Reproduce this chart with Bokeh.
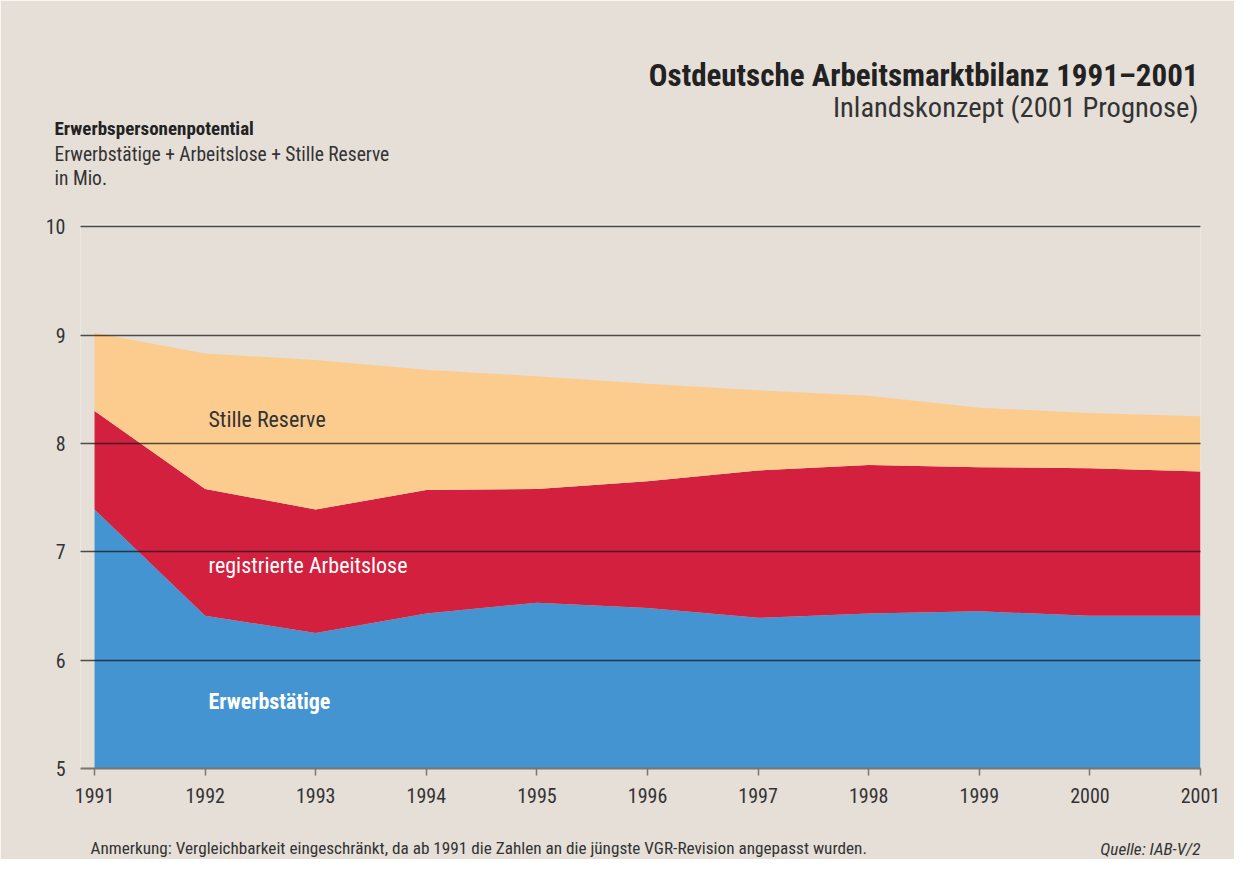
from bokeh.plotting import figure
from bokeh.models import ColumnDataSource, FixedTicker, Label, Range1d, Title
from bokeh.embed import file_html
from bokeh.resources import INLINE

years = [1991, 1992, 1993, 1994, 1995, 1996, 1997, 1998, 1999, 2000, 2001]
erwerbstaetige = [7.39, 6.41, 6.25, 6.43, 6.53, 6.48, 6.39, 6.43, 6.45, 6.41, 6.41]
arbeitslose = [0.91, 1.17, 1.14, 1.14, 1.05, 1.17, 1.36, 1.37, 1.33, 1.36, 1.33]
stille_reserve = [0.72, 1.25, 1.38, 1.11, 1.04, 0.90, 0.74, 0.64, 0.55, 0.51, 0.51]
y_ticks = [5, 6, 7, 8, 9, 10]

FONT = "Roboto Condensed"
BG = "#e5dfd8"
W, H = 1234, 859
FL, FR, FT, FB = 80, 1200, 224, 768     # frame edges in canvas pixels

src = ColumnDataSource(dict(year=years, erw=erwerbstaetige, alo=arbeitslose, sr=stille_reserve))

p = figure(width=W, height=H, output_backend="svg", toolbar_location=None,
           x_range=Range1d(1990.873, 2001), y_range=Range1d(5, 10.02),
           min_border_left=FL, min_border_right=W - FR, min_border_top=FT, min_border_bottom=H - FB)
p.background_fill_color = BG
p.border_fill_color = BG
p.outline_line_color = None

p.varea_stack(stackers=["erw", "alo", "sr"], x="year", source=src,
              color=["#4394d0", "#d2203e", "#fccc8e"])

# axes
p.xaxis.ticker = FixedTicker(ticks=years)
p.xaxis.axis_line_color = "#7a7570"
p.xaxis.axis_line_width = 2
p.xaxis.major_tick_line_color = "#7a7570"
p.xaxis.major_tick_line_width = 1.5
p.xaxis.major_tick_out = 7
p.xaxis.major_tick_in = 0
p.xaxis.minor_tick_line_color = None
p.xaxis.major_label_standoff = 12
p.xaxis.major_label_text_font = FONT
p.xaxis.major_label_text_font_size = "20px"
p.xaxis.major_label_text_color = "#333333"

p.yaxis.ticker = FixedTicker(ticks=y_ticks)
p.yaxis.axis_line_color = None
p.yaxis.major_tick_line_color = None
p.yaxis.minor_tick_line_color = None
p.yaxis.major_label_standoff = 9
p.yaxis.major_label_text_font = FONT
p.yaxis.major_label_text_font_size = "20px"
p.yaxis.major_label_text_color = "#333333"

p.xgrid.grid_line_color = None
p.ygrid.ticker = FixedTicker(ticks=[6, 7, 8, 9, 10])
p.ygrid.grid_line_color = "#1a1a1a"
p.ygrid.grid_line_alpha = 0.75
p.ygrid.grid_line_width = 1.3
p.ygrid.level = "annotation"

# ---- text stacks (Titles, since annotations are clipped to the frame) ----
HK, DK = 1.10, 0.21   # assumed text-box height and descent factors

def th(size):
    return HK * size

def title(text, size, side, standoff, align="left", offset=0, style="normal", color="#222222"):
    p.add_layout(Title(text=text, text_font=FONT, text_font_size=f"{size}px",
                       text_font_style=style, text_color=color, align=align,
                       offset=offset, standoff=standoff), side)

# above: (text, size, target baseline y, align, offset, style, color), nearest the frame first
above = [
    ("in Mio.", 19.5, 185, "left", -26, "normal", "#333333"),
    ("Erwerbstätige + Arbeitslose + Stille Reserve", 19.5, 163.2, "left", -26, "normal", "#333333"),
    ("Erwerbspersonenpotential", 19, 139.3, "left", -26, "bold", "#222222"),
    ("Inlandskonzept (2001 Prognose)", 28.5, 123, "right", 2, "normal", "#333333"),
    ("Ostdeutsche Arbeitsmarktbilanz 1991–2001", 31, 93.7, "right", 2, "bold", "#222222"),
]
# spacer so that the first line sits with zero standoff
first = above[0]
sy1 = first[2] + DK * first[1]
sp_size = 10
sp_h = FT - sy1
title(" ", sp_size, "above", sp_h - 2 - th(sp_size))
bottom = sy1
for text, size, base, align, off, style, color in above:
    sy = base + DK * size
    s = 2 * (bottom - sy)
    title(text, size, "above", s, align=align, offset=off, style=style, color=color)
    bottom = bottom - (2 + th(size) + s)

# below: spacer then two zero-height lines on the same baseline
AXIS_H = 7 + 12 + 1.2 * 20
foot_size = 17.2
foot_base = 859
zero_s = -(2 + th(foot_size))
panel_y = foot_base + DK * foot_size - (2 + th(foot_size)) / 2
title(" ", sp_size, "below", (panel_y - (FB + AXIS_H)) - 2 - th(sp_size))
title("Anmerkung: Vergleichbarkeit eingeschränkt, da ab 1991 die Zahlen an die jüngste VGR-Revision angepasst wurden.",
      foot_size, "below", zero_s, align="left", offset=10, color="#333333")
title("Quelle: IAB-V/2", foot_size, "below", zero_s, align="right", offset=0, style="italic", color="#333333")

# ---- in-chart labels ----
def lab(x, y, text, size, color, style="normal"):
    p.add_layout(Label(x=x, y=y, text=text, text_font=FONT, text_font_size=size,
                       text_color=color, text_font_style=style, text_baseline="alphabetic"))

lab(1992.03, 8.22, "Stille Reserve", "22px", "#333333")
lab(1992.03, 6.873, "registrierte Arbeitslose", "22px", "#ffffff")
lab(1992.03, 5.618, "Erwerbstätige", "22px", "#ffffff", "bold")

open("out.html", "w").write(file_html(p, INLINE))
